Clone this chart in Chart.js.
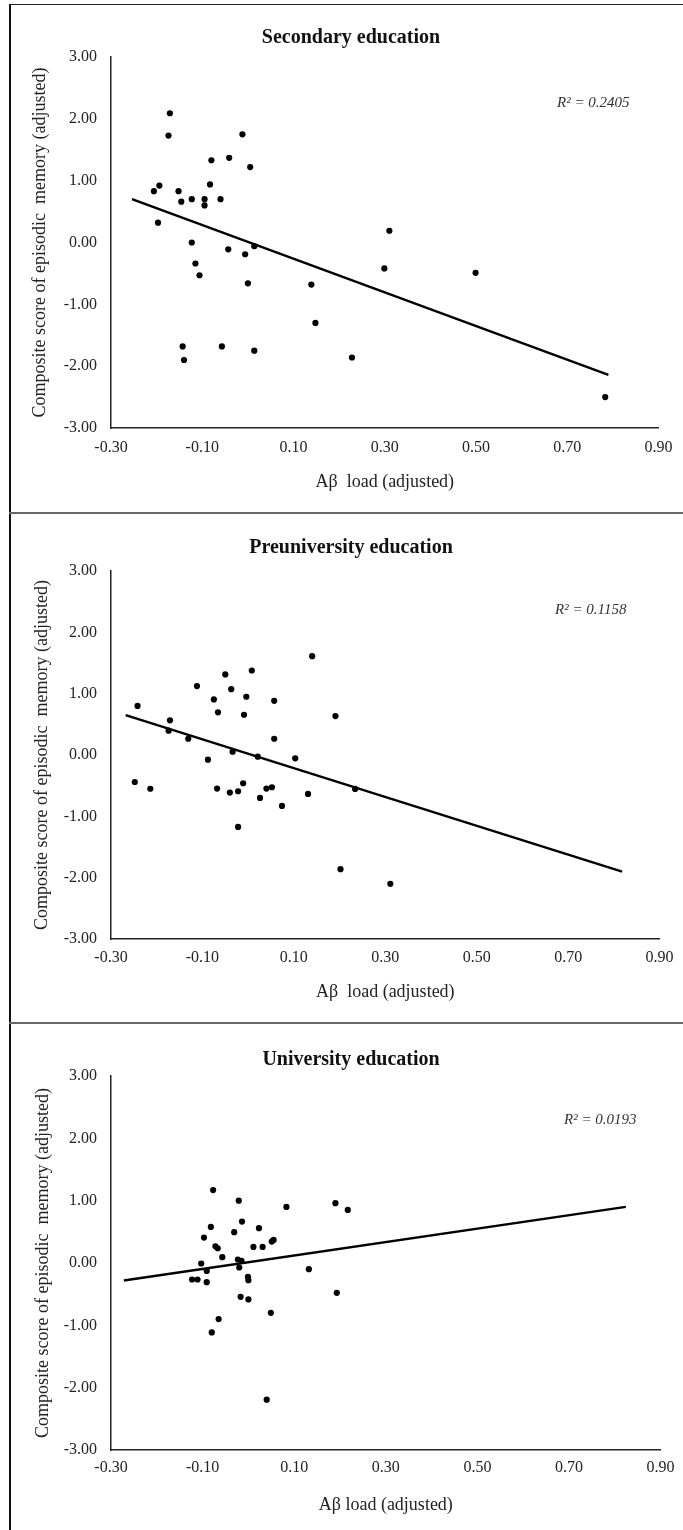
<!DOCTYPE html>
<html><head><meta charset="utf-8">
<script src="https://cdn.jsdelivr.net/npm/chart.js@4.4.1/dist/chart.umd.min.js"></script>
<style>
html,body{margin:0;padding:0;background:#fff;}
body{position:relative;width:683px;height:1530px;overflow:hidden;}
canvas{position:absolute;left:0;}
.ln{position:absolute;}
</style></head><body>
<canvas id="c1" width="683" height="512" style="top:0px"></canvas>
<canvas id="c2" width="683" height="510" style="top:512px"></canvas>
<canvas id="c3" width="683" height="508" style="top:1022px"></canvas>
<div class="ln" style="left:9px;top:4px;width:674px;height:1px;background:#222"></div>
<div class="ln" style="left:9px;top:4px;width:1.5px;height:1526px;background:#111"></div>
<div class="ln" style="left:9px;top:511.5px;width:674px;height:2px;background:#666"></div>
<div class="ln" style="left:9px;top:1021.5px;width:674px;height:2px;background:#666"></div>
<script>
const xTicks = [-0.30, -0.10, 0.10, 0.30, 0.50, 0.70, 0.90];
const yTicks = [-3, -2, -1, 0, 1, 2, 3];
const panelTitles = ["Secondary education", "Preuniversity education", "University education"];
const r2Labels = ["R² = 0.2405", "R² = 0.1158", "R² = 0.0193"];
const xAxisTitles = ["Aβ  load (adjusted)", "Aβ  load (adjusted)", "Aβ load (adjusted)"];
const yAxisTitle = "Composite score of episodic  memory (adjusted)";

const secX = [-0.206,-0.194,-0.197,-0.171,-0.174,-0.152,-0.146,-0.123,-0.123,-0.115,-0.106,-0.095,-0.095,-0.083,-0.080,-0.060,-0.041,-0.043,-0.012,0.005,-0.006,0.014,0.000,-0.143,-0.140,-0.057,0.014,0.139,0.148,0.228,0.299,0.310,0.499,0.783];
const secY = [0.83,0.92,0.32,2.09,1.73,0.83,0.66,0.70,0.00,-0.34,-0.53,0.70,0.60,0.94,1.33,0.70,1.37,-0.11,1.75,1.22,-0.19,-0.06,-0.66,-1.68,-1.90,-1.68,-1.75,-0.68,-1.30,-1.86,-0.42,0.19,-0.49,-2.50];
const secTrendX = [-0.254, 0.790];
const secTrendY = [0.70, -2.14];

const preX = [-0.242,-0.248,-0.214,-0.171,-0.174,-0.131,-0.112,-0.088,-0.075,-0.066,-0.068,-0.050,-0.037,-0.034,-0.040,-0.022,-0.022,-0.011,-0.009,-0.004,0.008,0.021,0.026,0.040,0.052,0.057,0.057,0.074,0.103,0.131,0.140,0.191,0.202,0.234,0.311];
const preY = [0.80,-0.44,-0.55,0.565,0.396,0.265,1.123,-0.076,0.906,0.695,-0.548,1.313,1.074,0.054,-0.613,-0.591,-1.172,-0.461,0.656,0.95,1.378,-0.027,-0.70,-0.548,-0.526,0.884,0.265,-0.83,-0.054,-0.635,1.611,0.635,-1.861,-0.553,-2.10];
const preTrendX = [-0.268, 0.818];
const preTrendY = [0.65, -1.90];

const uniX = [-0.077,-0.021,0.083,-0.014,-0.082,0.023,-0.031,-0.097,-0.072,-0.067,0.011,0.031,0.051,0.055,-0.057,-0.023,-0.015,-0.103,-0.020,-0.091,-0.123,-0.111,-0.091,-0.001,0.000,-0.017,0.000,0.132,0.049,-0.065,-0.080,0.040,0.190,0.217,0.193];
const uniY = [1.17,1.00,0.90,0.665,0.579,0.558,0.494,0.408,0.269,0.237,0.258,0.258,0.344,0.37,0.093,0.056,0.034,-0.008,-0.072,-0.127,-0.265,-0.265,-0.308,-0.223,-0.276,-0.543,-0.585,-0.099,-0.80,-0.90,-1.114,-2.193,0.959,0.852,-0.478];
const uniTrendX = [-0.272, 0.824];
const uniTrendY = [-0.28, 0.90];

const FONT = "'Liberation Serif', 'Times New Roman', serif";
Chart.defaults.font.family = FONT;
Chart.defaults.color = '#111';

const panels = [
  {id:'c1', h:512, top:57, bottom:428, xLabelY:448, xTitleY:482, titleY:38, yTitleX:40, r2X:557, r2Y:103, px:secX, py:secY, tx:secTrendX, ty:secTrendY},
  {id:'c2', h:510, top:59, bottom:427, xLabelY:446, xTitleY:480, titleY:36, yTitleX:42, r2X:555, r2Y:98, px:preX, py:preY, tx:preTrendX, ty:preTrendY},
  {id:'c3', h:508, top:54, bottom:428, xLabelY:446, xTitleY:483, titleY:38, yTitleX:43, r2X:564, r2Y:98, px:uniX, py:uniY, tx:uniTrendX, ty:uniTrendY}
];

panels.forEach((p, i) => {
  const textPlugin = {
    id: 'txt' + i,
    afterDraw(chart) {
      const ctx = chart.ctx;
      ctx.save();
      ctx.fillStyle = '#111';
      ctx.textBaseline = 'middle';
      ctx.textAlign = 'center';
      ctx.font = "bold 20px " + FONT;
      ctx.fillText(panelTitles[i], 351, p.titleY);
      ctx.textAlign = 'left';
      ctx.font = "italic 15px " + FONT;
      ctx.fillStyle = '#333';
      ctx.fillText(r2Labels[i], p.r2X, p.r2Y);
      ctx.restore();
    }
  };
  new Chart(document.getElementById(p.id), {
    type: 'scatter',
    data: {
      datasets: [
        {
          data: p.px.map((x, k) => ({x: x, y: p.py[k]})),
          pointRadius: 3.1, pointHoverRadius: 3.1,
          backgroundColor: '#000', borderWidth: 0
        },
        {
          data: p.tx.map((x, k) => ({x: x, y: p.ty[k]})),
          showLine: true, pointRadius: 0, borderColor: '#000',
          borderWidth: 2.4, fill: false
        }
      ]
    },
    options: {
      responsive: false, animation: false, devicePixelRatio: 1,
      layout: {padding: {top: p.top, left: 0, right: 17, bottom: 0}},
      plugins: {legend: {display: false}, tooltip: {enabled: false}, title: {display: false}},
      scales: {
        x: {
          type: 'linear', min: -0.3, max: 0.9,
          grid: {display: false, drawTicks: false},
          border: {display: true, color: '#222', width: 1.5},
          afterBuildTicks: s => { s.ticks = xTicks.map(v => ({value: v})); },
          afterFit: s => { s.height = p.h - p.bottom; },
          ticks: {
            autoSkip: false, maxRotation: 0, minRotation: 0,
            padding: p.xLabelY - p.bottom - 9.6,
            font: {size: 16}, color: '#222',
            callback: v => Number(v).toFixed(2)
          },
          title: {
            display: true, text: xAxisTitles[i], font: {size: 18}, color: '#222',
            padding: {top: 0, bottom: p.h - p.xTitleY - 10.8}
          }
        },
        y: {
          type: 'linear', min: -3, max: 3,
          grid: {display: false, drawTicks: false},
          border: {display: true, color: '#222', width: 1.5},
          afterBuildTicks: s => { s.ticks = yTicks.map(v => ({value: v})); },
          afterFit: s => { s.width = 111; },
          ticks: {
            autoSkip: false, padding: 14, font: {size: 16}, color: '#222',
            callback: v => Number(v).toFixed(2)
          },
          title: {
            display: true, text: yAxisTitle, font: {size: 18}, color: '#222',
            padding: {top: p.yTitleX - 10.8, bottom: 0}
          }
        }
      }
    },
    plugins: [textPlugin]
  });
});
</script>
</body></html>
